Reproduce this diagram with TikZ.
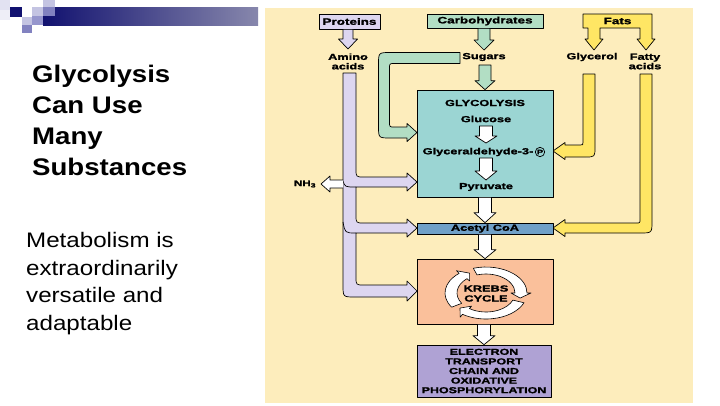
\documentclass[tikz,border=0pt]{standalone}
\usepackage{fontspec}
\setmainfont{Liberation Sans}
\newfontfamily\slidefont[FakeStretch=1.15]{Liberation Sans}
\newfontfamily\dfont[FakeStretch=1.45,BoldFeatures={FakeBold=1.6}]{Liberation Sans}
\usetikzlibrary{calc}
\definecolor{panel}{RGB}{253,237,188}
\definecolor{lav}{RGB}{221,214,240}
\definecolor{grn}{RGB}{178,222,196}
\definecolor{yel}{RGB}{255,230,100}
\definecolor{glyccol}{RGB}{155,213,211}
\definecolor{acoacol}{RGB}{112,160,200}
\definecolor{krebscol}{RGB}{250,192,155}
\definecolor{etccol}{RGB}{175,162,212}
\definecolor{navy}{RGB}{18,18,112}
\definecolor{barend}{RGB}{135,135,172}
\definecolor{sqA}{RGB}{226,226,242}
\definecolor{sqB}{RGB}{196,196,226}
\definecolor{sqC}{RGB}{150,150,205}
\definecolor{sqD}{RGB}{130,130,192}
% vertical block arrow: style, top point, tip point, shaft half width, head half width, head length
\newcommand\vblock[6]{\path[#1] let \p1=(#2), \p2=(#3) in
  (\x2-#4pt,\y1) -- (\x2-#4pt,\y2+#6pt) -- (\x2-#5pt,\y2+#6pt) -- (\x2,\y2)
  -- (\x2+#5pt,\y2+#6pt) -- (\x2+#4pt,\y2+#6pt) -- (\x2+#4pt,\y1) -- cycle;}
% ring segment of the Krebs cycle arrow
\newcommand\ringseg[2]{%
  \filldraw[ringst] ({486+41*cos(#1)},{293+26*sin(#1)})
    arc[start angle=#1, end angle=#2, x radius=41, y radius=26]
    -- ({486+45*cos(#2)},{293+29.5*sin(#2)})
    -- ({486+35*cos(#2+13)},{293+22.5*sin(#2+13)})
    -- ({486+25*cos(#2)},{293+16*sin(#2)})
    -- ({486+29*cos(#2)},{293+19*sin(#2)})
    arc[start angle=#2, end angle=#1, x radius=29, y radius=19] -- cycle;}
\begin{document}
\begin{tikzpicture}[x=1pt,y=-1pt,line join=round,
  outl/.style={draw=black,line width=0.7pt},
  box/.style={outl,inner sep=0pt,font=\dfont\bfseries\fontsize{9.3}{9}\selectfont},
  lbl/.style={inner sep=0pt,font=\dfont\bfseries\fontsize{8.8}{9.5}\selectfont,align=center},
  head/.style={inner sep=0pt,anchor=base west,font=\slidefont\bfseries\fontsize{24}{24}\selectfont},
  body/.style={inner sep=0pt,anchor=base west,font=\slidefont\fontsize{21}{21}\selectfont},
  lavst/.style={outl,fill=lav},
  grnst/.style={outl,fill=grn},
  yelst/.style={outl,fill=yel},
  whitest/.style={outl,fill=white},
  ringst/.style={draw=black,line width=0.6pt,fill=white}]
\useasboundingbox (0,0) rectangle (720,405);
\fill[white] (0,0) rectangle (720,405);

% slide decoration
\shade[left color=navy,right color=barend] (43,7) rectangle (258,25);
\fill[sqA] (0,0) rectangle (10,10);
\fill[sqA!60!white] (0,10) rectangle (10,20);
\fill[navy] (10,7) rectangle (22,17);
\fill[sqB] (22,17) rectangle (32,25);
\fill[sqB] (32,7) rectangle (43,16);
\fill[sqB] (43,0) rectangle (55,7);
\fill[sqD] (43,7) rectangle (55,16);
\fill[sqC] (32,16) rectangle (43,25);
\fill[sqD] (22,25) rectangle (32,33);

% slide text
\node[head] (h1) at (32,82) {Glycolysis};
\node[head] (h2) at (32,113) {Can Use};
\node[head] (h3) at (32,144) {Many};
\node[head] (h4) at (32,175) {Substances};
\node[body] (b1) at (26,247) {Metabolism is};
\node[body] (b2) at (26,275) {extraordinarily};
\node[body] (b3) at (26,302) {versatile and};
\node[body] (b4) at (26,330) {adaptable};

% diagram panel
\fill[panel] (265,8) rectangle (693,403);

% boxes
\node[box,fill=lav,minimum width=61,minimum height=15] (prot) at (349.5,21.5) {Proteins};
\node[box,fill=grn,minimum width=116,minimum height=14] (carb) at (485,21) {Carbohydrates};
\path[yelst] (583,14) -- (652,14) -- (652,39) -- (655,39) -- (646,50) -- (637,39) -- (640,39)
  -- (640,28) -- (600,28) -- (600,39) -- (603,39) -- (594,50) -- (585,39) -- (588,39)
  -- (588,28) -- (583,28) -- cycle;
\node[lbl,font=\dfont\bfseries\fontsize{9.3}{9}\selectfont] (fats) at (617.5,21) {Fats};

% labels under sources
\node[lbl] (amino) at (348,61.5) {Amino\\acids};
\node[lbl] (sugars) at (484,57) {Sugars};
\node[lbl] (glycerol) at (592,57) {Glycerol};
\node[lbl] (fatty) at (645,61.5) {Fatty\\acids};
\node[lbl,font=\dfont\bfseries\fontsize{8}{9}\selectfont] (nh3) at (305,184) {NH\textsubscript{3}};

% named end points
\coordinate (pA) at (348,49);
\coordinate (cA) at (484,50);
\coordinate (sA) at (484,65);

% arrows from sources
\vblock{lavst}{prot.south}{pA}{5}{9.5}{10}
\vblock{grnst}{carb.south}{cA}{6}{10}{10}

% bands
\path[lavst] (343,73) -- (356,73) -- (356,169) .. controls (356,177) .. (364,177)
  -- (407,177) -- (407,173) -- (417,182) -- (407,191) -- (407,187) -- (356,187)
  -- (356,215) .. controls (356,223) .. (364,223)
  -- (407,223) -- (407,219) -- (417,228) -- (407,237) -- (407,233) -- (356,233)
  -- (356,277) .. controls (356,285) .. (364,285)
  -- (407,285) -- (407,281) -- (417,291) -- (407,301) -- (407,297) -- (355,297)
  .. controls (343,297) .. (343,285) -- cycle;
\draw[line width=0.7pt] (343,181) .. controls (345,187) .. (356,187);
\draw[line width=0.7pt] (343,222) .. controls (345,233) .. (356,233);
\path[fill=white,draw=black,line width=0.7pt] (343,180) -- (330,180) -- (330,176) -- (321,184)
  -- (330,192) -- (330,188) -- (343,188);

\path[grnst] (460,52.5) -- (390.5,52.5) .. controls (378.5,52.5) .. (378.5,64.5)
  -- (378.5,126) .. controls (378.5,138) .. (390.5,138) -- (407,138) -- (407,141.5)
  -- (417,132.5) -- (407,123.5) -- (407,127) -- (394.5,127) .. controls (389.5,127) .. (389.5,122)
  -- (389.5,68.5) .. controls (389.5,63.5) .. (394.5,63.5) -- (460,63.5) -- cycle;

\path[yelst] (583,74) -- (595,74) -- (595,147) .. controls (595,157) .. (585,157)
  -- (565,157) -- (565,159.5) -- (553,151) -- (565,142.5) -- (565,145)
  -- (580,145) .. controls (583,145) .. (583,142) -- cycle;
\path[yelst] (640,74) -- (652,74) -- (652,221) .. controls (652,233) .. (640,233)
  -- (565,233) -- (565,236.5) -- (553,228) -- (565,219.5) -- (565,223)
  -- (636,223) .. controls (640,223) .. (640,219) -- cycle;

% main boxes
\node[box,fill=glyccol,minimum width=136,minimum height=107] (glyc) at (485,143.5) {};
\node[box,fill=acoacol,minimum width=136,minimum height=11,font=\dfont\bfseries\fontsize{8.8}{9}\selectfont] (acoa) at (485,228.5) {Acetyl CoA};
\node[box,fill=krebscol,minimum width=136,minimum height=65] (krebs) at (485,291.5) {};
\node[box,fill=etccol,minimum width=134,minimum height=52,align=center,font=\dfont\bfseries\fontsize{8.6}{9.6}\selectfont] (etc) at (484,371)
  {ELECTRON\\TRANSPORT\\CHAIN AND\\OXIDATIVE\\PHOSPHORYLATION};

\vblock{grnst}{sA}{glyc.north}{6}{10}{9}

% glycolysis contents
\node[lbl] (gtitle) at (485,103) {GLYCOLYSIS};
\node[lbl] (gluc) at (486,119) {Glucose};
\node[lbl] (g3p) at (478,152) {Glyceraldehyde-3-};
\node[draw,circle,line width=0.7pt,inner sep=0.6pt,font=\dfont\bfseries\fontsize{6.5}{6.5}\selectfont] (phos) at (540,152) {P};
\node[lbl] (pyr) at (486,187) {Pyruvate};
\coordinate (w1a) at (486,126);
\coordinate (w1b) at (486,143);
\coordinate (w2a) at (486,158);
\coordinate (w2b) at (486,180);
\vblock{whitest}{w1a}{w1b}{6.5}{11}{7}
\vblock{whitest}{w2a}{w2b}{6.5}{11}{9}
\vblock{whitest}{glyc.south}{acoa.north}{6.5}{11}{10}
\vblock{whitest}{acoa.south}{krebs.north}{6.5}{11}{9}
\vblock{whitest}{krebs.south}{etc.north}{6.5}{11}{9}

% Krebs cycle ring
\ringseg{-108}{0}
\ringseg{22}{125}
\ringseg{147}{229}
\node[lbl,font=\dfont\bfseries\fontsize{8.8}{10}\selectfont] (kt) at (486,293.5) {KREBS\\CYCLE};
\end{tikzpicture}
\end{document}
